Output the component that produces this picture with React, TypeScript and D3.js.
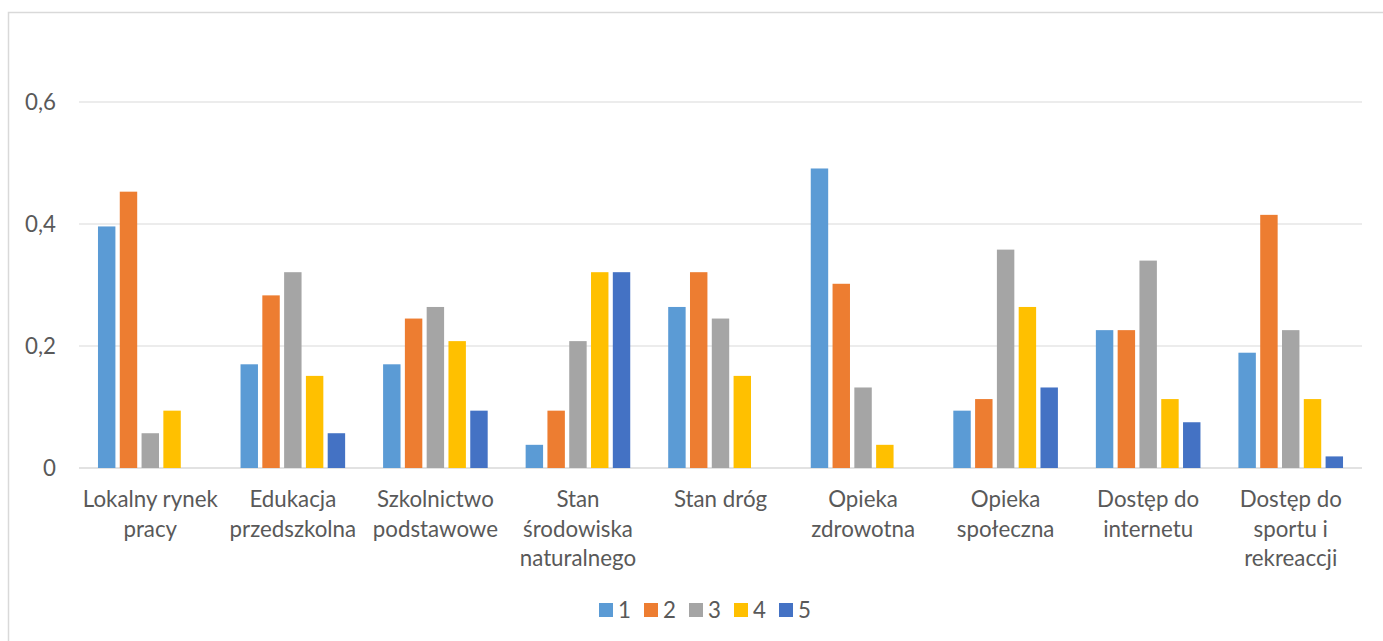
import React from "react";
import * as d3 from "d3";

const categories: string[][] = [
  ["Lokalny rynek", "pracy"],
  ["Edukacja", "przedszkolna"],
  ["Szkolnictwo", "podstawowe"],
  ["Stan", "środowiska", "naturalnego"],
  ["Stan dróg"],
  ["Opieka", "zdrowotna"],
  ["Opieka", "społeczna"],
  ["Dostęp do", "internetu"],
  ["Dostęp do", "sportu i", "rekreaccji"],
];

const seriesNames = ["1", "2", "3", "4", "5"];
const s1 = [0.396, 0.17, 0.17, 0.038, 0.264, 0.491, 0.094, 0.226, 0.189];
const s2 = [0.453, 0.283, 0.245, 0.094, 0.321, 0.302, 0.113, 0.226, 0.415];
const s3 = [0.057, 0.321, 0.264, 0.208, 0.245, 0.132, 0.358, 0.34, 0.226];
const s4 = [0.094, 0.151, 0.208, 0.321, 0.151, 0.038, 0.264, 0.113, 0.113];
const s5 = [0, 0.057, 0.094, 0.321, 0, 0, 0.132, 0.075, 0.019];
const seriesValues = [s1, s2, s3, s4, s5];
const colors = ["#5B9BD5", "#ED7D31", "#A5A5A5", "#FFC000", "#4472C4"];
const yTicks = [0, 0.2, 0.4, 0.6];
const yTickLabels = ["0", "0,2", "0,4", "0,6"];

const FONT = "Lato, 'Open Sans', sans-serif";
const TEXT = "#595959";

export default function App() {
  const W = 1383, H = 641;
  const left = 79, right = 1362, top = 102, bottom = 468;
  const catKeys = categories.map((_, i) => String(i));
  const x0 = d3.scaleBand<string>().domain(catKeys).range([left, right]);
  const groupW = 104.6;
  const x1 = d3.scaleBand<string>().domain(seriesNames).range([0, groupW]).paddingInner(0.2).paddingOuter(0);
  const y = d3.scaleLinear().domain([0, 0.6]).range([bottom, top]);
  const fs = 22.3;

  return (
    <svg width={W} height={H} style={{ position: "absolute", left: 0, top: 0, background: "#fff" }} fontFamily={FONT}>
      <rect x={0} y={0} width={W} height={H} fill="#fff" />
      {/* chart border */}
      <path d={`M8.5,${H} V12.5 H${W}`} fill="none" stroke="#d9d9d9" strokeWidth={1.5} />
      {/* gridlines */}
      {yTicks.map((t, i) => (
        <g key={i}>
          <line x1={left} x2={right} y1={y(t)} y2={y(t)} stroke="#d9d9d9" strokeWidth={i === 0 ? 1.5 : 1.2} />
          <text x={56} y={y(t)} dy="0.35em" textAnchor="end" fontSize={fs} fill={TEXT}>{yTickLabels[i]}</text>
        </g>
      ))}
      {/* bars */}
      {seriesValues.map((vals, si) => (
        <g key={si} fill={colors[si]}>
          {vals.map((v, ci) => {
            if (v <= 0) return null;
            const cx = (x0(String(ci)) as number) + x0.bandwidth() / 2;
            const bx = cx - groupW / 2 + (x1(seriesNames[si]) as number);
            return <rect key={ci} x={bx} y={y(v)} width={x1.bandwidth()} height={bottom - y(v)} />;
          })}
        </g>
      ))}
      {/* x labels */}
      {categories.map((lines, ci) => {
        const cx = (x0(String(ci)) as number) + x0.bandwidth() / 2;
        return (
          <text key={ci} x={cx} textAnchor="middle" fontSize={fs} fill={TEXT}>
            {lines.map((l, li) => (
              <tspan key={li} x={cx} y={507 + li * 29.5}>{l}</tspan>
            ))}
          </text>
        );
      })}
      {/* legend */}
      {seriesNames.map((n, i) => (
        <g key={n} transform={`translate(${599 + i * 45},603)`}>
          <rect width={14} height={14} fill={colors[i]} />
          <text x={19} y={7} dy="0.35em" fontSize={fs} fill={TEXT}>{n}</text>
        </g>
      ))}
    </svg>
  );
}
